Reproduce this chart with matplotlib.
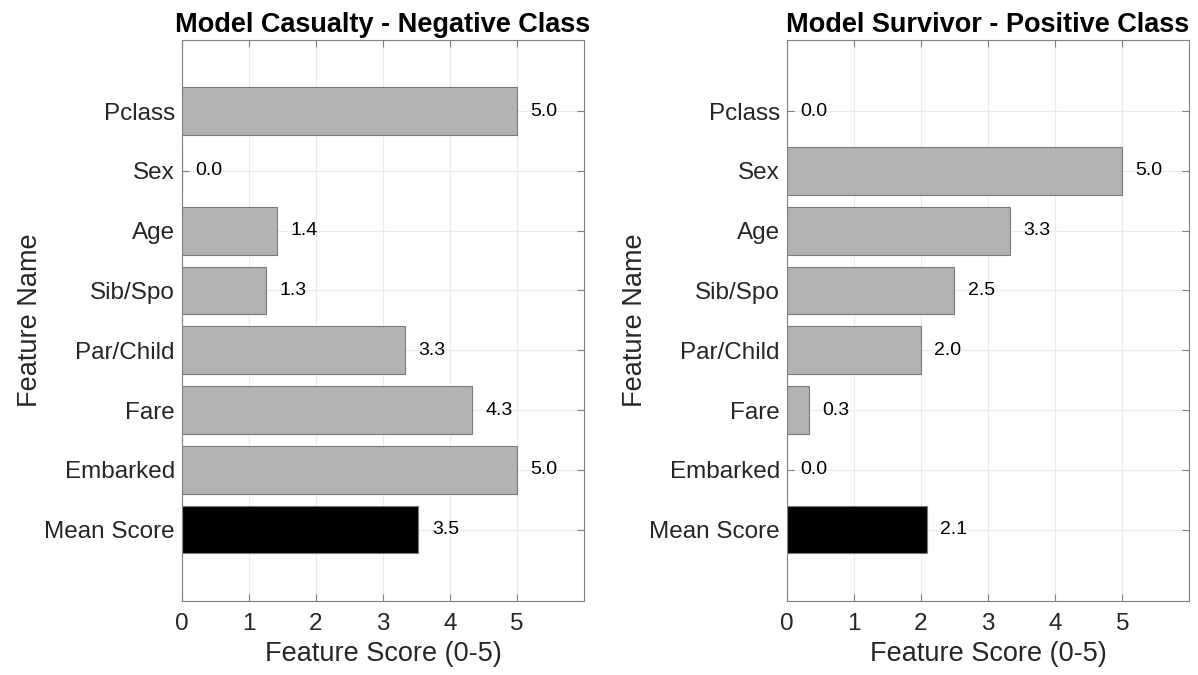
import numpy as np
import matplotlib.pyplot as plt

plt.rcParams['font.family'] = ['Liberation Sans', 'DejaVu Sans']

features = ["Pclass", "Sex", "Age", "Sib/Spo", "Par/Child", "Fare", "Embarked", "Mean Score"]
casualty_scores = [5.0, 0.0, 1.42, 1.26, 3.33, 4.33, 5.0, 3.53]
survivor_scores = [0.0, 5.0, 3.33, 2.5, 2.0, 0.33, 0.0, 2.09]
titles = ["Model Casualty - Negative Class", "Model Survivor - Positive Class"]

GREY = "#b3b3b3"
EDGE = "#7a7a7a"
TXT = "#262626"


def draw_panel(ax, scores, title):
    y = np.arange(len(features))
    colors = [GREY] * (len(features) - 1) + ["black"]
    ax.barh(y, scores, height=0.8, color=colors, edgecolor=EDGE, linewidth=0.8, zorder=2)
    for yi, v in zip(y, scores):
        ax.text(v + 0.2, yi, f"{v:.1f}", ha="left", va="center", fontsize=14, color="black", zorder=3)

    ax.set_xlim(0, 6)
    ax.set_ylim(len(features) - 1 + 1.19, -1.19)
    ax.set_xticks(range(6))
    ax.set_yticks(y)
    ax.set_yticklabels(features)
    ax.tick_params(axis="both", direction="in", top=True, right=True, length=5,
                   width=0.8, color="#808080", labelcolor=TXT, labelsize=17.5)
    ax.tick_params(axis="x", pad=9)
    ax.tick_params(axis="y", pad=5)
    ax.grid(True, color="#ebebeb", linewidth=0.8, zorder=0)
    ax.set_axisbelow(True)
    for s in ax.spines.values():
        s.set_color("#808080")
        s.set_linewidth(0.8)
    ax.set_title(title, fontsize=19.5, fontweight="bold", color="black", pad=6)
    ax.set_xlabel("Feature Score (0-5)", fontsize=19.5, color=TXT, labelpad=4)
    ax.set_ylabel("Feature Name", fontsize=19.5, color=TXT, labelpad=1)


fig = plt.figure(figsize=(11.98, 6.75), dpi=100)
ax1 = fig.add_axes([0.1517, 0.1101, 0.3358, 0.8306])
ax2 = fig.add_axes([0.6567, 0.1101, 0.3361, 0.8306])
draw_panel(ax1, casualty_scores, titles[0])
draw_panel(ax2, survivor_scores, titles[1])

fig.savefig("out.png", dpi=100)
